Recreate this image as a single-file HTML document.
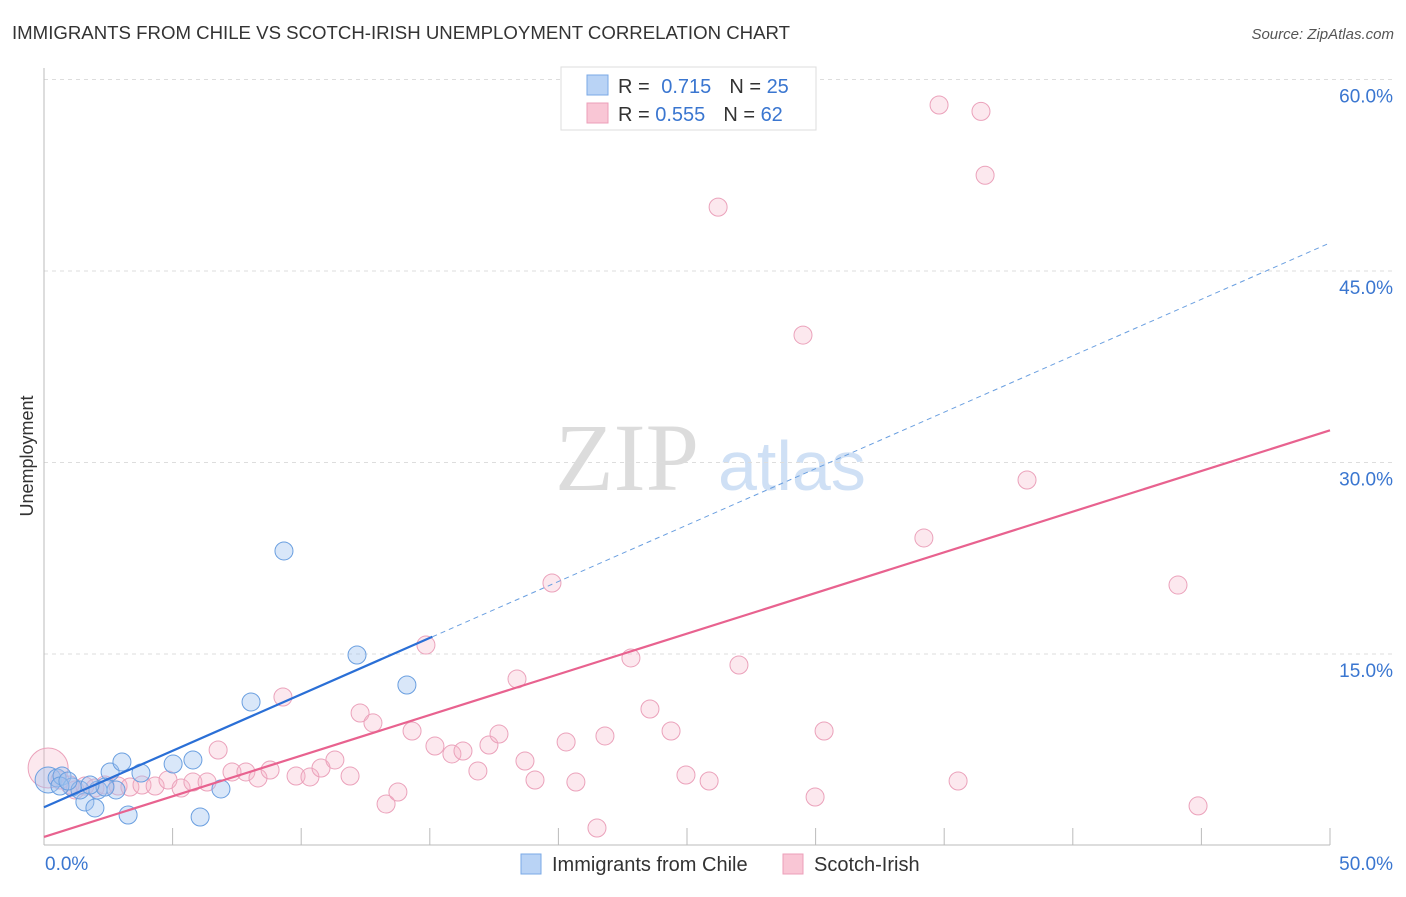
<!DOCTYPE html>
<html><head><meta charset="utf-8"><style>
body{margin:0;background:#fff;font-family:"Liberation Sans",sans-serif;}
</style></head><body>
<svg width="1406" height="892" xmlns="http://www.w3.org/2000/svg">
<text x="12" y="39" font-size="18" fill="#333" textLength="778" lengthAdjust="spacingAndGlyphs">IMMIGRANTS FROM CHILE VS SCOTCH-IRISH UNEMPLOYMENT CORRELATION CHART</text>
<text x="1394" y="39" font-size="15" fill="#555" font-style="italic" text-anchor="end">Source: ZipAtlas.com</text>
<text x="555" y="490" font-size="96" fill="#dcdcdc" font-family="Liberation Serif,serif">ZIP</text>
<text x="718" y="490" font-size="70" fill="#cfe0f5">atlas</text>
<g id="grid"></g>
<g id="axes"></g>
<g id="marks"></g>
<text transform="translate(33,456) rotate(-90)" font-size="18" fill="#333" text-anchor="middle">Unemployment</text>
<g>
<rect x="561" y="67" width="255" height="63" fill="#fff" stroke="#ddd"/>
<rect x="587" y="75" width="21" height="20" fill="#b9d3f5" stroke="#7aa8e6"/>
<rect x="587" y="103" width="21" height="20" fill="#f9c6d5" stroke="#ec9fb9"/>
<text x="618" y="93" font-size="20" fill="#333">R = <tspan fill="#3a76d0" dx="6">0.715</tspan><tspan dx="18">N = </tspan><tspan fill="#3a76d0">25</tspan></text>
<text x="618" y="121" font-size="20" fill="#333">R = <tspan fill="#3a76d0">0.555</tspan><tspan dx="18">N = </tspan><tspan fill="#3a76d0">62</tspan></text>
</g>
<g>
<rect x="521" y="854" width="20" height="20" fill="#b9d3f5" stroke="#7aa8e6"/>
<text x="552" y="871" font-size="20" fill="#333">Immigrants from Chile</text>
<rect x="783" y="854" width="20" height="20" fill="#f9c6d5" stroke="#ec9fb9"/>
<text x="814" y="871" font-size="20" fill="#333">Scotch-Irish</text>
</g>
</svg>
<script>
const yTicks=[15,30,45,60];
const yTickLabels=["15.0%","30.0%","45.0%","60.0%"];
const xTickVals=[0,5,10,15,20,25,30,35,40,45,50];
const chileX=[0.16,0.51,0.70,1.09,1.59,1.98,2.1,2.57,3.03,2.8,3.27,3.77,5.02,5.79,6.07,6.88,8.05,9.33,12.17,14.11,0.62,1.4,2.37,1.79,0.93];
const chileY=[5.13,5.29,5.44,4.58,3.41,2.94,4.35,5.76,6.54,4.35,2.39,5.68,6.38,6.70,2.23,4.43,11.24,23.07,14.92,12.57,4.66,4.35,4.58,4.74,5.05];
const scotX=[0.16,0.62,1.01,1.21,1.59,1.98,2.37,2.88,3.34,3.81,4.32,4.82,5.33,5.79,6.34,6.77,7.31,7.85,8.32,8.79,9.29,9.8,10.34,10.77,11.31,11.9,12.29,12.79,13.3,13.76,14.31,14.85,15.2,15.86,16.29,16.87,17.3,17.69,18.39,18.7,19.09,19.75,20.3,20.68,21.5,21.81,22.82,23.56,24.38,24.96,25.86,26.21,27.02,29.51,29.98,30.33,34.21,34.8,35.54,36.43,36.59,38.22,44.09,44.87];
const scotY=[6.07,5.13,4.74,4.35,4.66,4.5,4.74,4.66,4.58,4.74,4.66,5.13,4.5,4.97,4.97,7.48,5.76,5.76,5.29,5.91,11.63,5.44,5.37,6.07,6.7,5.44,10.38,9.6,3.25,4.19,8.97,15.7,7.79,7.17,7.4,5.84,7.87,8.73,13.04,6.62,5.13,20.56,8.11,4.97,1.37,8.58,14.69,10.69,8.97,5.52,5.05,50.0,14.14,39.98,3.8,8.97,24.09,58.0,5.05,57.5,52.5,28.63,20.4,3.1];
const chileTrend=[3.0,0.884,15.1];
const scotTrend=[0.67,0.637];
const NS="http://www.w3.org/2000/svg";
const sx=v=>44+v*25.72, sy=v=>845.5-v*12.767;
function mk(t,a,p){const e=document.createElementNS(NS,t);for(const k in a)e.setAttribute(k,a[k]);p.appendChild(e);return e;}
const grid=document.getElementById('grid'),axes=document.getElementById('axes'),marks=document.getElementById('marks');
yTicks.forEach((v,i)=>{
 const l=mk('line',{x1:44,x2:1394,y1:sy(v),y2:sy(v),stroke:'#ddd','stroke-dasharray':'4,4'},grid);
 
 
 const t=mk('text',{x:1393,y:sy(v)+23,'font-size':19,fill:'#3a76d0','text-anchor':'end'},axes);
 t.textContent=yTickLabels[i];
 
 
});
mk('line',{x1:44,x2:44,y1:68,y2:845,stroke:'#bbb'},axes);
mk('line',{x1:44,x2:1330,y1:845,y2:845,stroke:'#bbb'},axes);
xTickVals.forEach(v=>{if(v>0){const l=mk('line',{x1:sx(v),x2:sx(v),y1:828,y2:845,stroke:'#bbb'},axes);
 
 }});
const x0=mk('text',{x:45,y:870,'font-size':19,fill:'#3a76d0'},axes);x0.textContent='0.0%';


const x1=mk('text',{x:1393,y:870,'font-size':19,fill:'#3a76d0','text-anchor':'end'},axes);x1.textContent='50.0%';


scotX.forEach((x,i)=>{const c=mk('circle',{cx:sx(x),cy:sy(scotY[i]),r:i==0?20:9,fill:'rgba(246,180,200,0.3)',stroke:'#eba2bb','stroke-width':1},marks);
 
 });
chileX.forEach((x,i)=>{const c=mk('circle',{cx:sx(x),cy:sy(chileY[i]),r:i==0?13:9,fill:'rgba(160,195,240,0.4)',stroke:'#6a9fe0','stroke-width':1},marks);
 
 });
const bt=mk('line',{x1:sx(0),y1:sy(chileTrend[0]),x2:sx(chileTrend[2]),y2:sy(chileTrend[0]+chileTrend[1]*chileTrend[2]),stroke:'#2a6fd6','stroke-width':2.2},marks);


const bd=mk('line',{x1:sx(chileTrend[2]),y1:sy(chileTrend[0]+chileTrend[1]*chileTrend[2]),x2:sx(50),y2:sy(chileTrend[0]+chileTrend[1]*50),stroke:'#6a9fe0','stroke-width':1,'stroke-dasharray':'5,4'},marks);


const pt=mk('line',{x1:sx(0),y1:sy(scotTrend[0]),x2:sx(50),y2:sy(scotTrend[0]+scotTrend[1]*50),stroke:'#e8628f','stroke-width':2.2},marks);


</script>
</body></html>
